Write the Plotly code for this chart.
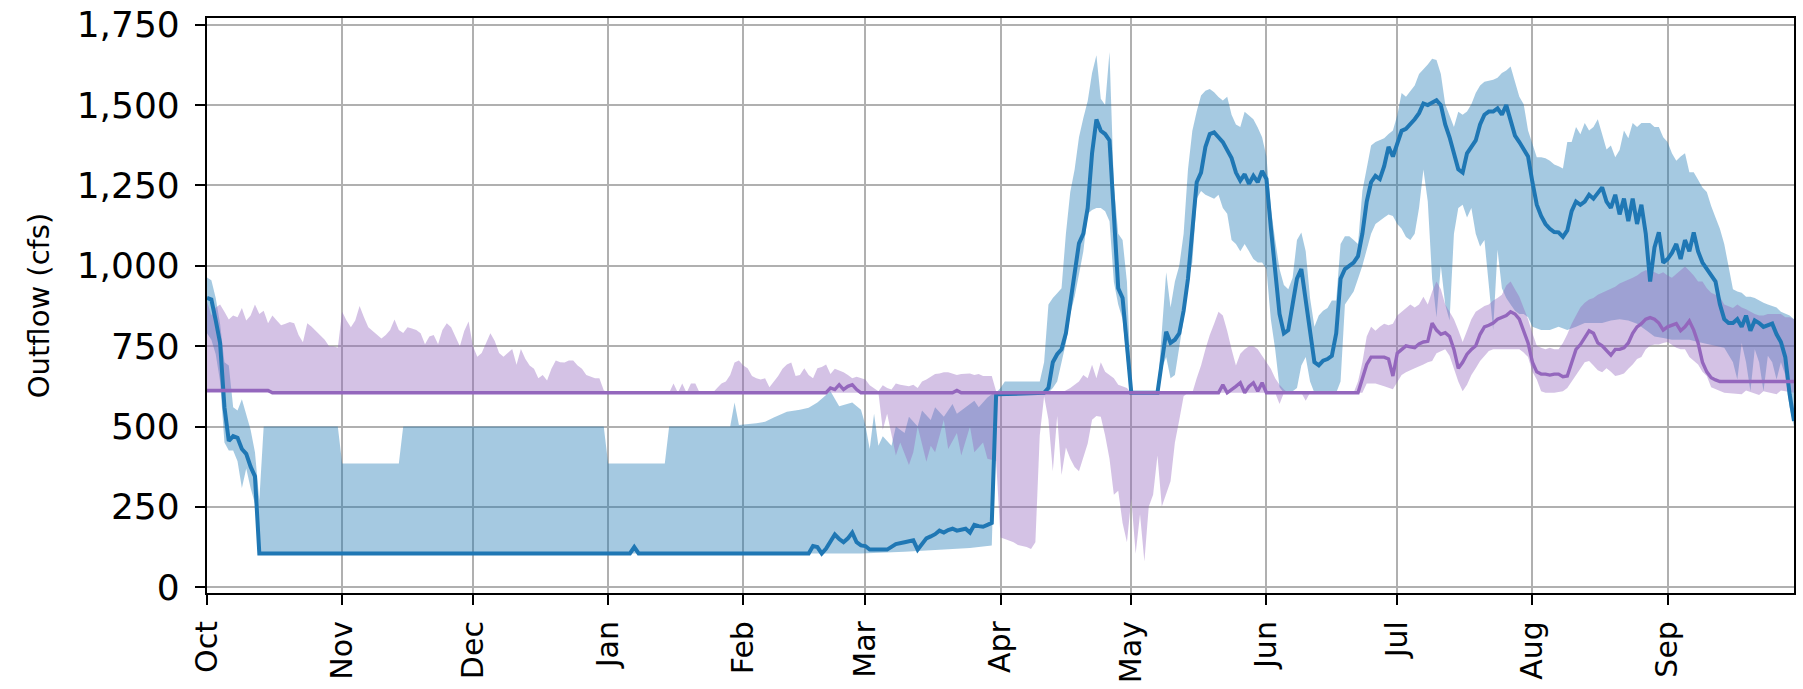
import pandas as pd
import plotly.graph_objects as go

# Water-year start; day offsets below count from this date
START = pd.Timestamp("2021-10-01")

# --- Blue series: median outflow and its range (cfs) ---
blue_days = [0, 1, 2, 3, 4, 5, 6, 7, 8, 9, 10, 11, 12, 97, 98, 99, 138, 139, 140, 141, 142, 143, 144, 145,
             146, 147, 148, 149, 150, 151, 152, 156, 157, 158, 160, 162, 163, 164, 165, 166, 167, 168, 169,
             170, 171, 172, 173, 174, 175, 176, 177, 178, 179, 180, 181, 192, 193, 194, 195, 196, 197, 198,
             199, 200, 201, 202, 203, 204, 205, 206, 207, 208, 209, 210, 211, 212, 218, 219, 220, 221, 222,
             223, 224, 225, 226, 227, 228, 229, 230, 231, 232, 233, 234, 235, 236, 237, 238, 239, 240, 241,
             242, 243, 244, 245, 246, 247, 248, 249, 250, 251, 252, 253, 254, 255, 256, 257, 258, 259, 260,
             261, 262, 263, 264, 265, 266, 267, 268, 269, 270, 271, 272, 273, 274, 275, 276, 277, 278, 279,
             280, 281, 282, 283, 284, 285, 286, 287, 288, 289, 290, 291, 292, 293, 294, 295, 296, 297, 298,
             299, 300, 301, 302, 303, 304, 305, 306, 307, 308, 309, 310, 311, 312, 313, 314, 315, 316, 317,
             318, 319, 320, 321, 322, 323, 324, 325, 326, 327, 328, 329, 330, 331, 332, 333, 334, 335, 336,
             337, 338, 339, 340, 341, 342, 343, 344, 345, 346, 347, 348, 349, 350, 351, 352, 353, 354, 355,
             356, 357, 358, 359, 360, 361, 362, 363, 364]
blue_flow = [900, 895, 830, 760, 560, 455, 470, 465, 430, 415, 375, 345, 105, 105, 125, 105, 105, 128, 125,
             105, 120, 140, 164, 150, 140, 152, 170, 140, 130, 128, 117, 117, 125, 134, 140, 146, 117, 135,
             152, 158, 165, 176, 170, 178, 182, 176, 180, 182, 170, 194, 190, 188, 194, 200, 600, 605, 620,
             700, 725, 740, 790, 880, 980, 1070, 1100, 1180, 1350, 1455, 1420, 1410, 1390, 1150, 930, 900,
             750, 605, 605, 700, 795, 760, 770, 790, 860, 960, 1120, 1260, 1290, 1370, 1410, 1415, 1400,
             1385, 1360, 1335, 1290, 1265, 1285, 1255, 1280, 1260, 1295, 1270, 1120, 970, 850, 790, 800,
             880, 960, 990, 900, 790, 700, 690, 705, 710, 720, 790, 960, 990, 1000, 1010, 1030, 1100, 1200,
             1260, 1280, 1270, 1310, 1370, 1340, 1380, 1420, 1426, 1440, 1456, 1475, 1505, 1500, 1507,
             1515, 1500, 1440, 1400, 1350, 1300, 1290, 1350, 1370, 1390, 1440, 1470, 1480, 1480, 1490,
             1470, 1500, 1450, 1405, 1385, 1360, 1340, 1260, 1190, 1155, 1130, 1115, 1105, 1104, 1090,
             1110, 1170, 1200, 1190, 1200, 1221, 1209, 1225, 1244, 1200, 1180, 1221, 1160, 1209, 1139,
             1209, 1130, 1190, 1100, 951, 1057, 1104, 1010, 1021, 1040, 1068, 1021, 1080, 1045, 1104, 1045,
             1010, 990, 974, 951, 880, 834, 822, 822, 834, 810, 845, 798, 830, 822, 810, 815, 820, 787, 763,
             716, 600, 517]

blue_hi_days = [0, 1, 2, 3, 4, 5, 6, 7, 8, 9, 10, 11, 12, 13, 30, 31, 44, 45, 91, 92, 105, 106, 120, 121,
                122, 126, 128, 130, 133, 136, 138, 140, 142, 143, 145, 148, 150, 151, 152, 153, 154, 155, 157,
                158, 160, 161, 163, 164, 166, 167, 169, 171, 172, 174, 176, 177, 179, 180, 181, 182, 183, 191,
                192, 193, 194, 195, 196, 197, 198, 199, 200, 201,
                202, 203, 204, 205, 206, 207, 208, 209, 210, 211, 212, 218, 219, 220, 221, 222, 223, 224, 225,
                226, 227, 228, 229, 230, 231, 232, 233, 234, 235, 236, 237, 238, 239, 240, 241, 242, 243, 244,
                245, 246, 247, 248, 249, 250, 251, 252, 253, 254, 255, 256, 257, 258, 259, 260, 261, 262, 263,
                264, 265, 266, 267, 268, 269, 270, 271, 272, 273, 274, 275, 276, 277, 278, 279, 280, 281, 282,
                283, 284, 285, 286, 287, 288, 289, 290, 291, 292, 293, 294, 295, 296, 297, 298, 299, 300, 301,
                302, 303, 304, 305, 306, 307, 308, 309, 310, 311, 312, 313, 314, 315, 316, 317, 318, 319, 320,
                321, 322, 323, 324, 325, 326, 327, 328, 329, 330, 331, 332, 333, 334, 335, 336, 337, 338, 339,
                340, 341, 342, 343, 344, 345, 346, 347, 348, 349, 350, 351, 352, 353, 354, 355, 356, 357, 358,
                359, 360, 361, 362, 363, 364]
blue_hi = [964, 955, 900, 820, 700, 690, 560, 550, 585, 540, 490, 420, 270, 500, 500, 385, 385, 500, 500, 385,
           385, 500, 500, 575, 505, 510, 515, 528, 546, 552, 558, 575, 599, 610, 563, 575, 552, 505, 430, 540,
           440, 470, 440, 500, 480, 530, 500, 550, 520, 560, 530, 570, 540, 560, 580, 560, 590, 600, 605, 620,
           640, 640, 700, 880, 900, 915, 930, 1100, 1230, 1300,
           1400, 1460, 1513, 1600, 1655, 1520, 1500, 1665, 1250, 1100, 1080, 950, 610, 610, 800, 980, 870,
           951, 1000, 1100, 1300, 1420, 1480, 1530, 1545, 1550, 1540, 1525, 1514, 1526, 1470, 1440, 1432,
           1479, 1468, 1456, 1430, 1400, 1340, 1180, 1080, 990, 940, 927, 963, 1080, 1104, 1045, 900, 810,
           845, 860, 869, 892, 892, 1068, 1092, 1092, 1080, 1068, 1233, 1300, 1374, 1385, 1390, 1397, 1410,
           1421, 1468, 1538, 1526, 1545, 1561, 1597, 1610, 1626, 1644, 1640, 1597, 1503, 1468, 1432, 1479,
           1470, 1480, 1503, 1538, 1561, 1573, 1575, 1579, 1585, 1600, 1608, 1620, 1573, 1526, 1503, 1421,
           1380, 1338, 1338, 1335, 1327, 1315, 1310, 1303, 1385, 1385, 1432, 1409, 1444, 1421, 1432, 1456,
           1409, 1362, 1374, 1338, 1360, 1421, 1397, 1444, 1432, 1444, 1444, 1444, 1432, 1432, 1400, 1385,
           1350, 1327, 1340, 1350, 1291, 1291, 1268, 1244, 1230, 1186, 1150, 1115, 1068, 1000, 927, 920,
           916, 904, 904, 900, 892, 885, 880, 875, 870, 857, 850, 845, 834]

blue_lo_days = [0, 1, 2, 3, 4, 5, 6, 7, 8, 9, 10, 11, 12, 138, 150, 160, 170, 175, 180, 181, 192, 193, 194,
                195, 196, 197, 198, 199, 200, 201, 202, 203, 204, 205, 206, 207, 208, 209, 210, 211, 212, 218,
                219, 220, 221, 222, 223, 224, 225, 226, 227, 228, 229, 230, 231, 232, 233, 234, 235, 236, 237,
                238, 239, 240, 241, 242, 243, 244, 245, 246, 247, 249, 250, 251, 252, 253, 254, 259, 260, 261,
                262, 263, 264, 265, 266, 267, 268, 269, 270, 271, 272, 273, 274, 275, 276, 277, 278, 279, 280,
                281, 282, 283, 284, 285, 286, 287, 288, 289, 290, 291, 292, 293, 294, 295, 296, 297, 298, 299,
                300, 301, 302, 303, 304, 306, 308, 310, 312, 314, 316, 318, 320, 322, 324, 326, 328, 330, 332,
                334, 336, 338, 340, 342, 344, 346, 348, 350, 351, 352, 353, 354, 355, 356, 357, 358, 359, 360,
                361, 362, 363, 364]
blue_lo = [790, 770, 725, 640, 450, 425, 425, 392, 309, 369, 309, 260, 105, 105, 105, 110, 118, 122, 130, 600,
           600, 605, 620, 640, 700, 760, 850, 904, 974, 1045, 1162, 1174, 1180, 1180, 1170, 1139, 950, 880,
           834, 700, 605, 605, 680, 716, 650, 660, 740, 834, 950, 1010, 1209, 1233, 1221, 1215, 1209, 1221,
           1180, 1162, 1080, 1068, 1045, 1068, 1045, 1021, 1010, 1010, 990, 834, 740, 622, 605, 610, 620,
           690, 716, 640, 605, 605, 640, 880, 900, 920, 960, 1000, 1050, 1100, 1130, 1140, 1150, 1160, 1155,
           1130, 1115, 1090, 1080, 1100, 1180, 1300, 1200, 960, 840, 1000, 880, 830, 1100, 1180, 1190, 1150,
           1180, 1100, 1060, 1080, 950, 800, 1050, 930, 900, 880, 860, 850, 850, 840, 810, 800, 800, 810,
           800, 810, 822, 822, 822, 830, 834, 830, 820, 800, 780, 775, 770, 770, 770, 763, 755, 751, 745,
           700, 646, 760, 700, 610, 740, 700, 610, 720, 700, 646, 700, 660, 560, 500]

# --- Purple series: median outflow and its range (cfs) ---
purple_days = [0, 14, 15, 142, 143, 144, 145, 146, 147, 148, 149, 150, 171, 172, 173, 232, 233, 234, 236,
               237, 238, 239, 240, 241, 242, 243, 264, 265, 266, 267, 270, 271, 272, 273, 274, 275, 276, 277,
               278, 279, 280, 281, 282, 283, 284, 285, 286, 287, 288, 289, 290, 291, 292, 293, 294, 295, 296,
               297, 298, 299, 300, 301, 302, 303, 304, 305, 306, 307, 308, 309, 310, 311, 312, 313, 314, 315,
               316, 317, 318, 319, 320, 321, 322, 323, 324, 325, 326, 327, 328, 329, 330, 331, 332, 333, 334,
               335, 336, 337, 338, 339, 340, 341, 342, 343, 344, 345, 346, 347, 364]
purple_flow = [612, 612, 605, 605, 620, 615, 630, 615, 625, 630, 615, 605, 605, 612, 605, 605, 630, 605, 625,
               636, 605, 625, 636, 610, 636, 605, 605, 650, 693, 716, 716, 710, 657, 728, 740, 751, 748, 745,
               757, 763, 765, 822, 800, 787, 792, 780, 740, 681, 700, 725, 740, 751, 787, 810, 815, 822, 834,
               840, 845, 857, 850, 834, 798, 760, 700, 670, 663, 663, 660, 663, 663, 655, 657, 700, 740, 755,
               775, 798, 790, 760, 751, 735, 722, 740, 740, 745, 760, 790, 810, 820, 834, 839, 834, 822, 800,
               810, 815, 820, 798, 810, 828, 800, 760, 700, 670, 652, 645, 640, 640]

purple_hi_days = list(range(0, 93)) + [106, 107, 108, 109, 110, 111, 112, 113, 116] + list(range(117, 183)) + \
    [196, 198, 200, 201, 202, 203, 204, 205, 206, 207, 208, 209, 210, 211, 212, 226, 227, 228, 229, 230, 231,
     232, 233, 234, 235, 236, 237, 238, 239, 240, 241, 242, 243, 244, 245, 246, 247, 248] + list(range(263, 365))
purple_hi = [890, 845, 870, 880, 857, 833, 845, 840, 869, 830, 845, 880, 850, 860, 821, 845, 830, 815, 820, 825,
             821, 785, 762, 821, 810, 797, 785, 770, 750, 750, 745, 857, 830, 809, 830, 875, 840, 809, 797, 785,
             774, 785, 800, 833, 800, 791, 809, 805, 800, 790, 756, 780, 785, 756, 800, 821, 809, 779, 750, 797,
             827, 750, 717, 729, 760, 790, 766, 729, 717, 730, 741, 692, 741, 711, 690, 680, 650, 660, 643, 680,
             705, 700, 699, 705, 705, 690, 680, 660, 656, 650, 650, 613, 605,
             605, 634, 605, 634, 605, 634, 634, 605, 605,
             620, 634, 640, 660, 699, 705, 690, 681, 657, 650, 646, 650, 622, 640, 657, 680, 693, 699, 657, 660,
             681, 660, 650, 681, 685, 693, 663, 680, 675, 669, 660, 650, 655, 650, 646, 628, 620, 610, 628, 620,
             615, 634, 630, 628, 625, 630, 620, 640, 646, 655, 663, 665, 669, 669, 665, 660, 663, 663, 665, 660,
             663, 657, 657, 657, 610, 605,
             605, 620, 640, 660, 650, 692, 650, 700, 670, 660, 650, 630, 625, 620, 605, 605, 650, 690, 740, 785,
             820, 857, 845, 797, 740, 690, 726, 740, 750, 750, 740, 720, 702, 680, 650, 630, 615, 605,
             605, 640, 700, 780, 810, 798, 810, 820, 815, 820, 845, 857, 870, 880, 870, 880, 904, 880, 920, 951,
             927, 880, 857, 834, 800, 763, 798, 834, 857, 865, 875, 880, 892, 900, 910, 939, 951, 927, 904, 869,
             834, 790, 751, 745, 740, 745, 740, 740, 760, 787, 820, 845, 870, 885, 895, 900, 910, 916, 922, 927,
             935, 945, 951, 955, 963, 970, 980, 986, 986, 980, 974, 980, 970, 963, 975, 985, 998, 985, 970, 951,
             951, 930, 916, 910, 904, 880, 875, 869, 880, 870, 865, 857, 850, 845, 845, 850, 850, 850, 850, 840,
             840, 834]

purple_lo_days = [0, 154, 155, 156, 157, 158, 159, 161, 162, 163, 165, 166, 167, 169, 170, 172, 173, 175,
                  176, 178, 179, 181, 182, 183, 185, 186, 188, 189, 190, 191, 192,
                  193, 194, 195, 196, 197, 198, 199, 200, 201, 202, 203, 204, 205, 206, 207, 208, 209, 210, 211,
                  212, 213, 214, 215, 216, 217, 218, 219, 220, 221, 222, 223, 224, 225, 245, 246, 247, 251, 252,
                  253, 265, 266, 268, 270, 272, 273, 274, 275, 276, 277, 278, 279, 280, 281, 282, 283, 284, 285,
                  286, 287, 288, 289, 290, 291, 292, 293, 294, 295, 301, 302, 303, 304, 305, 306, 307, 309, 310,
                  311, 312, 313, 314, 315, 316, 317, 318, 319, 320, 321, 322, 323, 324, 325, 326, 327, 328, 329,
                  330, 331, 332, 333, 334, 335, 336, 337, 338, 339, 340, 341, 342, 343, 344, 345, 346, 347, 348,
                  352, 353, 356, 357, 360, 361, 364]
purple_lo = [605, 605, 490, 540, 470, 410, 450, 380, 420, 500, 390, 440, 420, 520, 430, 480, 410, 500, 420,
             450, 400, 393, 155, 150, 140, 131, 125, 119, 140, 472, 594, 521, 361,
             533, 349, 435, 400, 374, 361, 400, 447, 521, 533, 530, 472, 400, 288, 300, 200, 140, 276, 104, 227,
             80, 250, 288, 410, 251, 288, 330, 450, 520, 594, 605, 605, 570, 605, 605, 580, 605, 605, 634, 634,
             625, 616, 640, 660, 669, 675, 681, 688, 693, 700, 704, 728, 735, 740, 720, 680, 640, 610, 630, 660,
             681, 704, 720, 735, 740, 740, 730, 716, 670, 646, 610, 605, 605, 608, 610, 620, 640, 660, 681, 700,
             704, 690, 675, 669, 681, 670, 657, 660, 665, 680, 693, 710, 716, 740, 751, 755, 755, 760, 763, 755,
             745, 740, 740, 716, 705, 693, 670, 657, 622, 615, 610, 605, 600, 612, 598, 610, 600, 612, 605]

MONTH_TICK0 = "2021-10-01"
X_END = "2022-09-30"


def to_dates(days):
    return START + pd.to_timedelta(days, unit="D")


def band(hi_days, hi_vals, lo_days, lo_vals):
    """Closed polygon: upper edge left-to-right, lower edge right-to-left."""
    xs = list(to_dates(hi_days)) + list(to_dates(lo_days))[::-1]
    ys = list(hi_vals) + list(lo_vals)[::-1]
    return xs, ys


BLUE = "#1f77b4"
PURPLE = "#9467bd"
FONT = "DejaVu Sans"

fig = go.Figure()

bx, by = band(blue_hi_days, blue_hi, blue_lo_days, blue_lo)
fig.add_trace(go.Scatter(x=bx, y=by, mode="lines", fill="toself", line=dict(width=0),
                         fillcolor="rgba(31,119,180,0.4)", hoverinfo="skip", showlegend=False))

px_, py_ = band(purple_hi_days, purple_hi, purple_lo_days, purple_lo)
fig.add_trace(go.Scatter(x=px_, y=py_, mode="lines", fill="toself", line=dict(width=0),
                         fillcolor="rgba(148,103,189,0.4)", hoverinfo="skip", showlegend=False))

fig.add_trace(go.Scatter(x=to_dates(blue_days), y=blue_flow, mode="lines",
                         line=dict(color=BLUE, width=4), showlegend=False))
fig.add_trace(go.Scatter(x=to_dates(purple_days), y=purple_flow, mode="lines",
                         line=dict(color=PURPLE, width=3.4), showlegend=False))

axis_common = dict(
    showline=True, linecolor="black", linewidth=2.2, mirror=True,
    ticks="outside", ticklen=10, tickwidth=2, tickcolor="black",
    showgrid=True, gridcolor="#b0b0b0", gridwidth=2, zeroline=False,
)

fig.update_xaxes(
    **axis_common,
    type="date", range=[MONTH_TICK0, X_END],
    tick0=MONTH_TICK0, dtick="M1", tickformat="%b", tickangle=-90,
    tickfont=dict(family=FONT, size=30, color="black"),
    ticklabelstandoff=4,
)
fig.update_yaxes(
    **axis_common,
    range=[-18, 1771], tick0=0, dtick=250, tickformat=",d",
    tickfont=dict(family=FONT, size=36, color="black"),
    ticklabelstandoff=8,
    title=dict(text="Outflow (cfs)", font=dict(family=FONT, size=29, color="black"), standoff=18),
)

fig.update_layout(
    width=1803, height=689,
    margin=dict(l=207, r=9, t=18, b=96, autoexpand=False),
    paper_bgcolor="white", plot_bgcolor="white",
    showlegend=False,
)

fig.write_html("out.html", config={"displayModeBar": False})
